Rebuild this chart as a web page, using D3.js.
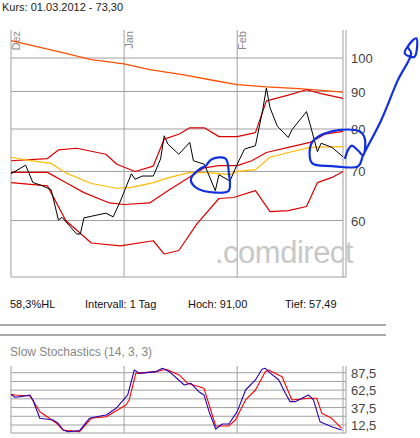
<!DOCTYPE html>
<html><head><meta charset="utf-8">
<script src="https://cdn.jsdelivr.net/npm/d3@7"></script>
<style>
body{margin:0;background:#fff;font-family:"Liberation Sans",Arial,sans-serif}
svg text{font-family:"Liberation Sans",Arial,sans-serif}
</style></head><body>
<svg id="chart" width="420" height="438"></svg>
<script>
// days since 1 Dec 2011
var priceDays = [0,4,6,8,11,13,14,18,19,20,22,26,28,30,33,34,36,39,41,42,43,46,49,50,53,56,57,60,62,64,67,69,70,71,73,76,77,81,82,84,85,88,91]
var price = [69.5,71.4,67.6,67.1,66.1,60.1,60.6,57.5,57.5,60.5,60.8,61.4,60.7,63.8,69.5,68.3,69.0,69.0,72.8,78.3,76.3,73.9,76.7,72.4,71.6,65.9,69.3,67.9,71.6,75.1,75.9,85.0,91.0,85.5,80.7,77.9,79.8,84.5,81.1,74.5,76.5,75.5,73.3]
var resistDays = [0,8,15,22,31,38,47,56,62,70,79,91]
var resist = [105.6,103.4,101.5,99.5,98.2,96.4,94.9,93.1,92.0,91.3,90.8,89.8]
var upperDays = [0,10,13,18,26,29,34,39,42,46,49,53,57,62,67,70,76,81,85,91]
var upper = [72.4,72.9,74.9,75.3,73.9,71.6,70.0,71.2,77.5,78.7,80.3,80.3,78.1,78.1,79.1,87.4,89.0,90.5,89.4,88.1]
var midDays = [0,10,15,20,27,31,38,43,48,53,57,62,66,70,76,82,86,91]
var mid = [69.8,69.8,67.6,65.5,63.4,63.1,63.4,65.9,68.3,70.8,71.3,71.3,72.4,74.3,75.5,76.7,78.7,79.4]
var lowerDays = [0,10,15,22,30,39,42,46,51,57,61,67,71,76,81,84,88,91]
var lower = [67.6,66.9,60.0,55.9,55.4,56.3,54.0,54.6,59.4,64.3,64.5,65.9,61.7,61.9,62.7,67.6,68.7,70.0]
var avgDays = [0,4,11,15,22,29,33,39,43,49,55,60,62,67,71,76,82,91]
var avg = [73.2,72.6,71.8,69.7,67.4,66.4,66.6,67.6,68.6,69.8,69.7,69.3,70.0,70.4,73.2,74.3,75.5,75.7]
var loop1Days = [53.4,55.2,58.8,59.7,59.7,56.1,50.6,49.3,51.5,53.4]
var loop1 = [71.2,72.8,72.9,69.7,65.9,65.5,66.6,68.3,70.4,71.2]
var arrowDays = [91.5,92.5,93.4,95.2,96.5,97,95.6,87.9,82.5,82.5,87.9,95.2,96.5,101.5,106,109.7,108.8,111.1,110.6,107.9,110.2]
var arrow = [72.8,75.1,75.9,74.7,73.6,77.5,79.4,79.4,76.7,71.9,71.2,71.2,73.6,82.3,93.2,101.5,103.6,106.4,100.4,101.5,105.8]
var kDays = [0,1.1,2.5,5.2,6,7.9,11.5,12.9,14.3,15.6,18.8,21.5,23.4,26.1,28.8,32,33.8,35.2,39.7,41.5,43.4,47.5,49.3,51.5,52.9,54.3,56.1,57.9,59.7,62,64.3,67,68.8,69.7,70.6,73.4,75.2,76.5,77.9,81.5,82.9,84.7,87.9,90.6]
var kVals = [56.4,52.2,53.2,55.6,48.4,22.1,19.7,14.9,5.3,2.9,4.4,22.1,24.4,26.8,36.4,55.6,91.4,86.6,89.0,93.8,89.0,69.9,72.3,60.3,55.6,31.6,6.7,13.9,13.9,31.6,62.7,77.1,92.4,93.8,89.0,77.1,58.0,46.0,46.0,55.6,48.4,17.3,10.1,5.3]
var dDays = [0,1.1,5.2,6.5,7.9,12.5,14.3,18.8,22,26.1,31.5,32.4,34.2,39.7,42.5,46.1,48.4,52.9,56.1,59.7,61.5,64.3,67,69.7,70.6,74.3,77,81.5,83.8,85.2,87.9,90.6]
var dVals = [56.4,55.6,54.1,43.6,31.6,14.9,5.3,2.9,22.1,24.4,41.2,48.4,86.6,89.0,92.4,84.3,72.3,65.1,11.1,11.1,19.7,48.4,62.7,89.0,91.4,81.8,48.4,50.8,50.8,29.2,22.1,7.7]
var monthDays = [0,31,62]
var monthLabels = ['Dez','Jan','Feb']
var priceTicks = [100,90,80,70,60]
var stochGrid = [87.5,75,62.5,50,37.5,25,12.5]
var stochTicks = [87.5,62.5,37.5,12.5]

var svg = d3.select('#chart')
var grid = '#a0a0a0'
var x = d3.scaleLinear().domain([0,91]).range([11,343])
var y = d3.scaleLog().domain([60,100]).range([220.5,58])
var ys = d3.scaleLinear().domain([0,100]).range([433.7,364])

svg.append('text').attr('x',2).attr('y',11).attr('font-size',11).attr('fill','#222')
  .text('Kurs: 01.03.2012 - 73,30')

// main grid
svg.selectAll('.hg').data(priceTicks).enter().append('line')
  .attr('x1',x(0)).attr('x2',x(91)).attr('y1',d => y(d)).attr('y2',d => y(d))
  .attr('stroke',grid)
svg.selectAll('.vg').data(monthDays).enter().append('line')
  .attr('x1',d => x(d)).attr('x2',d => x(d)).attr('y1',30).attr('y2',277).attr('stroke',grid)
svg.append('line').attr('x1',x(91)).attr('x2',x(91)).attr('y1',30).attr('y2',277).attr('stroke',grid)
svg.append('line').attr('x1',x(91)+3).attr('x2',x(91)+3).attr('y1',30).attr('y2',277).attr('stroke',grid)
svg.append('line').attr('x1',x(0)).attr('x2',x(91)+3).attr('y1',277).attr('y2',277).attr('stroke',grid)
svg.selectAll('.ml').data(monthDays).enter().append('text')
  .attr('transform',d => 'translate(' + (x(d)+9) + ',31) rotate(-90)')
  .attr('text-anchor','end').attr('font-size',11).attr('fill','#888')
  .text((d,i) => monthLabels[i])
svg.selectAll('.pl').data(priceTicks).enter().append('text')
  .attr('x',351).attr('y',d => y(d)+5).attr('font-size',13).attr('fill','#444')
  .text(d => d)

svg.append('text').attr('x',215).attr('y',263).attr('font-size',31).attr('fill','#c8c8c8')
  .attr('letter-spacing',-0.5).text('.comdirect')

function draw(days, vals, color, width, yscale, curve){
  var line = d3.line().x((d,i) => x(days[i])).y(d => yscale(d))
  if (curve) line.curve(curve)
  svg.append('path').datum(vals).attr('d',line).attr('fill','none')
    .attr('stroke',color).attr('stroke-width',width).attr('stroke-linejoin','round')
}
draw(resistDays, resist, '#ff5000', 1.3, y)
draw(upperDays, upper, '#dd0000', 1.2, y)
draw(midDays, mid, '#dd0000', 1.2, y)
draw(lowerDays, lower, '#dd0000', 1.2, y)
draw(avgDays, avg, '#ffbb00', 1.2, y)
draw(priceDays, price, '#000', 1, y)
draw(loop1Days, loop1, '#1030e0', 2.2, y, d3.curveCatmullRom)
draw(arrowDays, arrow, '#1030e0', 2.2, y, d3.curveCatmullRom)

// info row
var info = [['58,3%HL',10],['Intervall: 1 Tag',85],['Hoch:   91,00',188],['Tief:   57,49',285]]
svg.selectAll('.inf').data(info).enter().append('text')
  .attr('x',d => d[1]).attr('y',308).attr('font-size',11).attr('fill','#111')
  .text(d => d[0])
svg.append('line').attr('x1',0).attr('x2',386).attr('y1',325).attr('y2',325).attr('stroke','#555')
svg.append('line').attr('x1',0).attr('x2',386).attr('y1',335).attr('y2',335).attr('stroke','#555')
svg.append('text').attr('x',10).attr('y',356).attr('font-size',12).attr('fill','#888')
  .text('Slow Stochastics (14, 3, 3)')

// stochastics panel
svg.selectAll('.sg').data(stochGrid).enter().append('line')
  .attr('x1',x(0)).attr('x2',x(91)+3).attr('y1',d => ys(d)).attr('y2',d => ys(d)).attr('stroke',grid)
svg.selectAll('.svg').data(monthDays).enter().append('line')
  .attr('x1',d => x(d)).attr('x2',d => x(d)).attr('y1',366).attr('y2',433).attr('stroke',grid)
svg.append('line').attr('x1',x(91)).attr('x2',x(91)).attr('y1',366).attr('y2',433).attr('stroke',grid)
svg.append('line').attr('x1',x(91)+3).attr('x2',x(91)+3).attr('y1',366).attr('y2',433).attr('stroke',grid)
svg.append('line').attr('x1',x(0)).attr('x2',x(91)+3).attr('y1',433).attr('y2',433).attr('stroke',grid)
svg.selectAll('.stl').data(stochTicks).enter().append('text')
  .attr('x',351).attr('y',d => ys(d)+5).attr('font-size',13).attr('fill','#444')
  .text(d => String(d).replace('.',','))
draw(dDays, dVals, '#ff0000', 1.1, ys)
draw(kDays, kVals, '#2a00b0', 1.1, ys)
</script>
</body></html>
